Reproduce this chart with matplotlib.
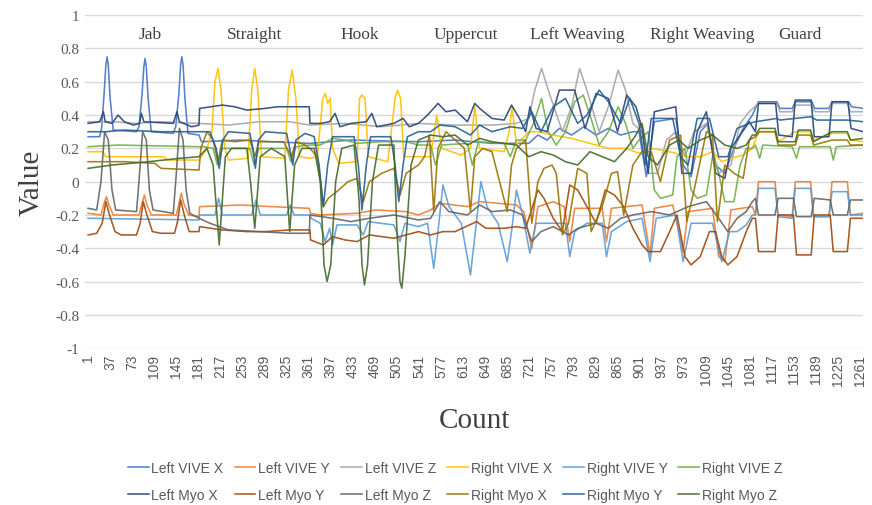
import matplotlib
matplotlib.use("Agg")
import matplotlib.pyplot as plt

# ---- data (count, value) keypoints ----
LVX_C = [1, 20, 23, 27, 30, 32, 34, 37, 42, 80, 84, 89, 92, 94, 96, 99, 104, 140, 144, 149, 152, 154, 156,
         159, 164, 182, 186, 250, 300, 363,
         430, 540, 600, 660, 720, 735, 750, 770, 790, 810, 830, 850, 870, 890, 900, 912, 925, 960, 972,
         985, 1000, 1012, 1025, 1040, 1055, 1070, 1085, 1090, 1095, 1125, 1130, 1150, 1155, 1182, 1187,
         1210, 1215, 1242, 1247, 1266]
LVX_V = [0.27, 0.27, 0.32, 0.52, 0.70, 0.75, 0.70, 0.50, 0.31, 0.30, 0.33, 0.52, 0.69, 0.74, 0.69, 0.50, 0.30, 0.29, 0.33, 0.52, 0.70, 0.75, 0.70,
         0.50, 0.29, 0.28, 0.24, 0.25, 0.24, 0.23,
         0.25, 0.24, 0.25, 0.23, 0.23, 0.28, 0.25, 0.32, 0.28, 0.33, 0.28, 0.32, 0.28, 0.30, 0.30, 0.03, 0.36, 0.38, 0.10,
         0.03, 0.30, 0.35, 0.10, 0.05, 0.20, 0.32, 0.40, 0.44, 0.48, 0.48, 0.44, 0.44, 0.48, 0.48, 0.44,
         0.44, 0.48, 0.48, 0.45, 0.44]

LVY_C = [1, 22, 27, 31, 35, 42, 84, 89, 93, 97, 104, 145, 150, 153, 157, 165, 182, 183, 250, 300, 362,
         364, 380, 440, 470, 520, 540, 560, 575, 620, 640, 700, 712, 725, 735, 760, 778, 787, 795, 840,
         847, 855, 905, 912, 918, 925, 955, 965, 972, 980, 1020, 1030, 1040, 1050, 1085, 1090, 1095,
         1122, 1127, 1150, 1155, 1180, 1185, 1210, 1215, 1240, 1245, 1266]
LVY_V = [-0.19, -0.20, -0.13, -0.09, -0.14, -0.20, -0.20, -0.13, -0.08, -0.14, -0.20, -0.20, -0.12, -0.07, -0.13, -0.20, -0.21, -0.15, -0.14, -0.15, -0.16,
         -0.19, -0.20, -0.19, -0.17, -0.18, -0.20, -0.17, -0.13, -0.15, -0.12, -0.14, -0.18, -0.40, -0.15, -0.12, -0.15, -0.36, -0.16, -0.16,
         -0.36, -0.16, -0.14, -0.30, -0.44, -0.16, -0.14, -0.30, -0.42, -0.18, -0.16, -0.45, -0.48, -0.17, -0.15, -0.20, 0.00,
         0.00, -0.20, -0.21, 0.00, 0.00, -0.21, -0.21, 0.00, 0.00, -0.20, -0.19]

LVZ_C = [1, 40, 80, 120, 182, 230, 280, 330, 363, 420, 480, 540, 600, 660, 700, 720, 730, 741, 752, 775,
         790, 803, 815, 835, 850, 866, 878, 890, 905, 915, 930, 945, 960, 975, 990, 1010, 1030, 1050,
         1065, 1080, 1095, 1125, 1130, 1150, 1155, 1180, 1187, 1210, 1215, 1240, 1245, 1266]
LVZ_V = [0.36, 0.36, 0.35, 0.36, 0.35, 0.34, 0.36, 0.36, 0.34, 0.35, 0.33, 0.35, 0.34, 0.34, 0.35, 0.38, 0.55, 0.68, 0.55, 0.30,
         0.45, 0.68, 0.55, 0.30, 0.45, 0.67, 0.55, 0.35, 0.30, 0.05, 0.05, 0.25, 0.30, 0.15, 0.30, 0.35, 0.05, 0.10,
         0.35, 0.42, 0.47, 0.47, 0.42, 0.42, 0.46, 0.46, 0.42, 0.42, 0.47, 0.47, 0.42, 0.42]

RVX_C = [1, 25, 30, 125, 130, 182, 195, 203, 208, 213, 218, 224, 230, 262, 268, 273, 278, 284, 322, 328,
         334, 340, 346, 363, 375, 384, 388, 392, 396, 400, 410, 440, 444, 448, 453, 458, 490, 502, 506,
         511, 516, 540, 560, 570, 578, 610, 625, 632, 640, 680, 688, 693, 700, 720, 735, 760, 790, 820,
         850, 880, 900, 920, 950, 980, 1000, 1020, 1035, 1050, 1070, 1085, 1095, 1122, 1127, 1155, 1180,
         1185, 1215, 1240, 1245, 1266]
RVX_V = [0.18, 0.18, 0.15, 0.15, 0.13, 0.13, 0.20, 0.30, 0.60, 0.68, 0.55, 0.20, 0.13, 0.14, 0.55, 0.68, 0.55, 0.15, 0.14, 0.55,
         0.67, 0.50, 0.15, 0.14, 0.15, 0.50, 0.53, 0.47, 0.50, 0.20, 0.11, 0.12, 0.50, 0.52, 0.50, 0.15, 0.12, 0.50, 0.55,
         0.50, 0.15, 0.15, 0.15, 0.40, 0.20, 0.16, 0.20, 0.45, 0.20, 0.18, 0.30, 0.45, 0.22, 0.30, 0.30, 0.28, 0.26, 0.23,
         0.20, 0.20, 0.17, 0.20, 0.18, 0.15, 0.15, 0.18, 0.12, 0.14, 0.16, 0.20, 0.30, 0.30, 0.24, 0.30, 0.30,
         0.25, 0.29, 0.29, 0.25, 0.24]

RVY_C = [1, 182, 183, 208, 214, 220, 268, 275, 282, 325, 331, 337, 363, 365, 380, 388, 395, 400, 407, 440,
         450, 458, 500, 510, 518, 540, 555, 565, 572, 580, 590, 610, 625, 633, 642, 652, 670, 685, 692,
         700, 710, 722, 732, 760, 780, 787, 795, 815, 840, 847, 855, 880, 905, 918, 928, 960, 972, 985,
         1020, 1035, 1048, 1060, 1075, 1085, 1090, 1095, 1122, 1127, 1150, 1155, 1180, 1185, 1210, 1215,
         1240, 1245, 1266]
RVY_V = [-0.22, -0.23, -0.20, -0.20, -0.10, -0.20, -0.20, -0.11, -0.20, -0.20, -0.14, -0.20, -0.20, -0.22, -0.25, -0.36, -0.28, -0.38, -0.26, -0.26,
         -0.32, -0.24, -0.26, -0.36, -0.25, -0.27, -0.25, -0.52, -0.30, -0.02, -0.15, -0.25, -0.56, -0.30, 0.00, -0.15, -0.25, -0.48, -0.30,
         -0.05, -0.20, -0.43, -0.25, -0.25, -0.25, -0.45, -0.30, -0.25, -0.25, -0.45, -0.30, -0.24, -0.22, -0.48, -0.22, -0.20, -0.48, -0.25,
         -0.25, -0.48, -0.30, -0.30, -0.26, -0.20, -0.20, -0.04, -0.04, -0.21, -0.22, -0.04, -0.04, -0.21, -0.21, -0.06,
         -0.06, -0.20, -0.20]

RVZ_C = [1, 50, 182, 190, 205, 212, 220, 265, 272, 280, 325, 332, 340, 363, 380, 400, 420, 440, 480, 520,
         540, 560, 568, 578, 620, 628, 638, 680, 690, 700, 715, 728, 741, 752, 765, 780, 795, 809, 820,
         835, 850, 866, 878, 890, 900, 915, 925, 935, 955, 962, 975, 985, 995, 1010, 1020, 1030, 1040,
         1055, 1065, 1075, 1085, 1090, 1097, 1102, 1150, 1157, 1162, 1212, 1217, 1222, 1266]
RVZ_V = [0.21, 0.22, 0.21, 0.21, 0.20, 0.10, 0.20, 0.20, 0.10, 0.20, 0.20, 0.12, 0.21, 0.22, 0.22, 0.26, 0.25, 0.23, 0.24, 0.24,
         0.22, 0.22, 0.10, 0.22, 0.23, 0.10, 0.24, 0.23, 0.15, 0.25, 0.25, 0.35, 0.50, 0.30, 0.22, 0.30, 0.48, 0.52, 0.40,
         0.22, 0.30, 0.45, 0.35, 0.20, 0.25, 0.30, -0.05, -0.10, -0.08, 0.15, 0.20, -0.05, -0.10, -0.08, 0.15, 0.05, -0.12,
         -0.12, 0.10, 0.20, 0.20, 0.22, 0.14, 0.22, 0.21, 0.14, 0.21, 0.21, 0.13, 0.21, 0.22]

LMX_C = [1, 20, 26, 29, 40, 50, 60, 75, 85, 88, 92, 140, 146, 150, 170, 182, 183, 220, 240, 260,
         290, 310, 340, 362, 363, 380, 395, 404, 412, 430, 455, 464, 472, 500, 515, 525, 540, 555, 572,
         585, 600, 620, 632, 640, 660, 680, 692, 705, 715, 722, 732, 750, 770, 795, 812, 830, 850, 865,
         880, 895, 905, 915, 925, 960, 970, 985, 995, 1010, 1025, 1040, 1050, 1065, 1080, 1090, 1095,
         1123, 1128, 1150, 1155, 1181, 1186, 1210, 1215, 1241, 1246, 1266]
LMX_V = [0.35, 0.36, 0.42, 0.36, 0.35, 0.40, 0.36, 0.34, 0.35, 0.41, 0.36, 0.35, 0.42, 0.36, 0.33, 0.34, 0.44, 0.46, 0.45, 0.43,
         0.44, 0.45, 0.45, 0.45, 0.35, 0.35, 0.36, 0.41, 0.33, 0.35, 0.36, 0.41, 0.33, 0.35, 0.38, 0.33, 0.35, 0.40, 0.47,
         0.42, 0.43, 0.36, 0.47, 0.44, 0.38, 0.37, 0.46, 0.38, 0.30, 0.45, 0.32, 0.30, 0.55, 0.55, 0.32, 0.53, 0.50, 0.30,
         0.52, 0.45, 0.32, 0.05, 0.42, 0.45, 0.05, 0.05, 0.30, 0.42, 0.05, 0.02, 0.20, 0.28, 0.36, 0.30, 0.47,
         0.47, 0.28, 0.27, 0.49, 0.49, 0.27, 0.27, 0.48, 0.48, 0.32, 0.30]

LMY_C = [1, 15, 24, 30, 36, 45, 55, 80, 86, 91, 97, 106, 120, 142, 147, 152, 158, 166, 182, 183,
         220, 260, 290, 330, 363, 364, 385, 400, 420, 440, 460, 480, 500, 520, 540, 560, 580, 600, 635,
         650, 680, 700, 715, 735, 745, 760, 775, 787, 800, 815, 830, 845, 860, 875, 890, 905, 915, 935,
         950, 962, 975, 985, 1000, 1015, 1025, 1035, 1045, 1060, 1075, 1085, 1090, 1095, 1122, 1127, 1152,
         1157, 1181, 1186, 1212, 1217, 1240, 1245, 1266]
LMY_V = [-0.32, -0.31, -0.25, -0.12, -0.20, -0.30, -0.32, -0.32, -0.25, -0.12, -0.20, -0.30, -0.31, -0.31, -0.24, -0.11, -0.20, -0.30, -0.30, -0.27,
         -0.29, -0.30, -0.30, -0.29, -0.29, -0.35, -0.38, -0.33, -0.35, -0.36, -0.32, -0.33, -0.34, -0.32, -0.30, -0.32, -0.30, -0.30, -0.24,
         -0.28, -0.28, -0.27, -0.28, -0.05, -0.10, -0.22, -0.30, -0.02, -0.05, -0.15, -0.25, -0.05, -0.08, -0.15, -0.28, -0.38, -0.42, -0.42,
         -0.30, -0.20, -0.45, -0.50, -0.45, -0.30, -0.30, -0.45, -0.50, -0.45, -0.30, -0.22, -0.22, -0.42, -0.42, -0.20, -0.20,
         -0.44, -0.44, -0.20, -0.20, -0.42, -0.42, -0.22, -0.22]

LMZ_C = [1, 15, 22, 28, 34, 40, 46, 80, 84, 90, 96, 101, 107, 140, 144, 150, 156, 161, 167, 182,
         200, 230, 280, 330, 362, 363, 400, 430, 460, 500, 540, 560, 575, 590, 620, 640, 660, 690, 710,
         725, 740, 760, 785, 800, 830, 850, 870, 890, 920, 950, 980, 1010, 1030, 1045, 1060, 1075, 1085,
         1090, 1095, 1122, 1127, 1152, 1157, 1181, 1186, 1212, 1217, 1240, 1245, 1266]
LMZ_V = [-0.16, -0.17, 0.00, 0.30, 0.25, -0.05, -0.17, -0.18, 0.00, 0.30, 0.25, -0.05, -0.17, -0.19, 0.00, 0.32, 0.25, -0.05, -0.19, -0.22,
         -0.25, -0.29, -0.30, -0.31, -0.31, -0.20, -0.22, -0.24, -0.22, -0.20, -0.23, -0.22, -0.12, -0.18, -0.20, -0.14, -0.18, -0.17, -0.20,
         -0.36, -0.30, -0.27, -0.32, -0.28, -0.25, -0.28, -0.22, -0.20, -0.18, -0.20, -0.15, -0.12, -0.22, -0.30, -0.22, -0.18, -0.12,
         -0.10, -0.20, -0.20, -0.10, -0.10, -0.21, -0.21, -0.10, -0.11, -0.20, -0.20, -0.11, -0.11]

RMX_C = [1, 60, 110, 120, 182, 185, 195, 205, 213, 220, 240, 265, 273, 280, 320, 333, 340, 355, 363, 375,
         385, 393, 410, 425, 440, 450, 460, 480, 500, 510, 520, 540, 550, 558, 565, 572, 585, 600, 615,
         625, 632, 645, 660, 685, 692, 700, 715, 725, 735, 745, 758, 765, 775, 785, 800, 815, 822, 840,
         855, 865, 875, 890, 905, 920, 935, 950, 968, 978, 990, 1010, 1020, 1028, 1040, 1055, 1070, 1080,
         1090, 1097, 1122, 1127, 1155, 1160, 1180, 1185, 1215, 1240, 1245, 1266]
RMX_V = [0.12, 0.12, 0.11, 0.08, 0.07, 0.20, 0.30, 0.25, 0.12, 0.25, 0.24, 0.25, 0.15, 0.24, 0.24, 0.15, 0.24, 0.22, 0.20, 0.15,
         -0.15, -0.10, -0.05, 0.00, 0.02, -0.12, 0.00, 0.05, 0.08, -0.08, 0.05, 0.10, 0.15, 0.28, -0.18, 0.20, 0.30, 0.25, 0.20,
         -0.18, 0.15, 0.20, 0.18, -0.18, 0.10, 0.20, 0.25, -0.25, 0.00, 0.08, 0.10, 0.05, -0.32, -0.25, 0.08, 0.05, -0.30, -0.15,
         0.05, 0.06, -0.20, 0.10, 0.18, 0.18, 0.00, 0.25, 0.28, -0.24, -0.05, 0.30, 0.28, -0.24, 0.10, 0.05, 0.02, 0.25,
         0.27, 0.30, 0.30, 0.22, 0.22, 0.28, 0.28, 0.22, 0.25, 0.25, 0.22, 0.22]

RMY_C = [1, 30, 60, 120, 182, 200, 210, 215, 221, 230, 265, 270, 274, 279, 290, 325, 330, 335, 340, 355,
         363, 370, 378, 385, 392, 400, 435, 442, 448, 455, 462, 495, 502, 508, 515, 522, 540, 560, 575,
         600, 625, 640, 660, 690, 710, 725, 740, 760, 780, 800, 815, 835, 850, 870, 885, 900, 910, 920,
         955, 968, 980, 995, 1015, 1030, 1045, 1060, 1080, 1090, 1125, 1130, 1180, 1190, 1240, 1266]
RMY_V = [0.30, 0.30, 0.31, 0.30, 0.30, 0.30, 0.20, 0.08, 0.25, 0.30, 0.29, 0.20, 0.08, 0.25, 0.30, 0.29, 0.20, 0.10, 0.25, 0.29,
         0.28, 0.27, 0.10, -0.15, 0.10, 0.27, 0.27, 0.10, -0.17, 0.10, 0.27, 0.27, 0.10, -0.12, 0.10, 0.27, 0.30, 0.30, 0.34,
         0.33, 0.28, 0.34, 0.30, 0.33, 0.32, 0.42, 0.30, 0.45, 0.50, 0.35, 0.40, 0.55, 0.48, 0.35, 0.50, 0.35, 0.10, 0.38,
         0.38, 0.15, 0.10, 0.38, 0.38, 0.15, 0.15, 0.32, 0.35, 0.36, 0.38, 0.37, 0.39, 0.37, 0.37, 0.36]

RMZ_C = [1, 40, 100, 150, 182, 195, 205, 215, 225, 235, 260, 266, 273, 282, 300, 322, 330, 338, 350, 363,
         370, 380, 386, 391, 397, 405, 415, 435, 443, 448, 452, 457, 465, 475, 500, 505, 510, 513, 518,
         528, 540, 560, 580, 600, 620, 640, 660, 680, 700, 720, 740, 760, 780, 800, 820, 840, 860, 880,
         895, 905, 915, 930, 950, 965, 980, 1000, 1020, 1040, 1060, 1075, 1085, 1090, 1097, 1122, 1127,
         1155, 1160, 1180, 1185, 1215, 1240, 1245, 1266]
RMZ_V = [0.08, 0.10, 0.12, 0.14, 0.15, 0.20, 0.10, -0.38, 0.15, 0.20, 0.20, 0.00, -0.28, 0.15, 0.20, 0.15, -0.30, 0.10, 0.20, 0.20,
         0.20, 0.00, -0.50, -0.60, -0.50, 0.00, 0.20, 0.22, -0.10, -0.50, -0.62, -0.50, 0.00, 0.22, 0.22, -0.30, -0.60, -0.64, -0.45,
         0.10, 0.25, 0.28, 0.27, 0.28, 0.22, 0.26, 0.24, 0.23, 0.22, 0.15, 0.18, 0.16, 0.12, 0.10, 0.18, 0.15, 0.12, 0.20,
         0.28, 0.35, 0.15, 0.10, 0.22, 0.25, 0.20, 0.25, 0.28, 0.22, 0.20, 0.22, 0.28, 0.28, 0.32, 0.32, 0.24,
         0.24, 0.31, 0.31, 0.24, 0.30, 0.30, 0.25, 0.26]

SERIES = [
    ("Left VIVE X", LVX_C, LVX_V, "#4472C4"),
    ("Left VIVE Y", LVY_C, LVY_V, "#ED7D31"),
    ("Left VIVE Z", LVZ_C, LVZ_V, "#A5A5A5"),
    ("Right VIVE X", RVX_C, RVX_V, "#FFC000"),
    ("Right VIVE Y", RVY_C, RVY_V, "#5B9BD5"),
    ("Right VIVE Z", RVZ_C, RVZ_V, "#70AD47"),
    ("Left Myo X", LMX_C, LMX_V, "#264478"),
    ("Left Myo Y", LMY_C, LMY_V, "#9E480E"),
    ("Left Myo Z", LMZ_C, LMZ_V, "#636363"),
    ("Right Myo X", RMX_C, RMX_V, "#997300"),
    ("Right Myo Y", RMY_C, RMY_V, "#255E91"),
    ("Right Myo Z", RMZ_C, RMZ_V, "#43682B"),
]

SECTIONS = ["Jab", "Straight", "Hook", "Uppercut", "Left Weaving", "Right Weaving", "Guard"]
SECTION_POS = [102, 273, 445, 617, 800, 1004, 1162]

X_TICKS = list(range(1, 1262, 36))
Y_TICKS = [-1, -0.8, -0.6, -0.4, -0.2, 0, 0.2, 0.4, 0.6, 0.8, 1]

SERIF = ["Liberation Serif", "DejaVu Serif"]
SANS = ["Liberation Sans", "DejaVu Sans"]
TXT = "#595959"

fig = plt.figure(figsize=(8.72, 5.06), dpi=100)
ax = fig.add_axes([0.0975, 0.310, 0.8925, 0.658])

lines = {}
for name, xs, ys, col in SERIES:
    ln, = ax.plot(xs, ys, color=col, lw=1.15, alpha=0.9, label=name)
    lines[name] = ln

ax.set_xlim(-4, 1266)
ax.set_ylim(-1, 1)
ax.set_yticks(Y_TICKS)
ax.set_yticklabels(["%g" % t for t in Y_TICKS], family=SERIF, fontsize=11, color=TXT)
ax.set_xticks(X_TICKS)
ax.set_xticklabels([str(t) for t in X_TICKS], rotation=90, family=SANS, fontsize=10, color=TXT)
ax.tick_params(length=0, pad=4)
ax.grid(axis="y", color="#D9D9D9", lw=1.0)
ax.set_axisbelow(True)
for s in ax.spines.values():
    s.set_visible(False)

for lab, pos in zip(SECTIONS, SECTION_POS):
    ax.text(pos, 0.885, lab, ha="center", va="center", family=SERIF, fontsize=12.5, color="#404040")

ax.set_ylabel("Value", family=SERIF, fontsize=21, color="#404040", labelpad=8)
ax.set_xlabel("Count", family=SERIF, fontsize=21, color="#404040", labelpad=16)

# legend: row-wise order VIVE on first row, Myo on second
order = []
for i in range(6):
    order += [SERIES[i][0], SERIES[i + 6][0]]
fig.legend([lines[n] for n in order], order, loc="upper center", bbox_to_anchor=(0.522, 0.112),
           ncol=6, frameon=False, prop={"family": SANS, "size": 10}, labelcolor=TXT,
           handlelength=1.5, handletextpad=0.2, columnspacing=0.8, labelspacing=0.95)

fig.savefig("out.png", dpi=100)
